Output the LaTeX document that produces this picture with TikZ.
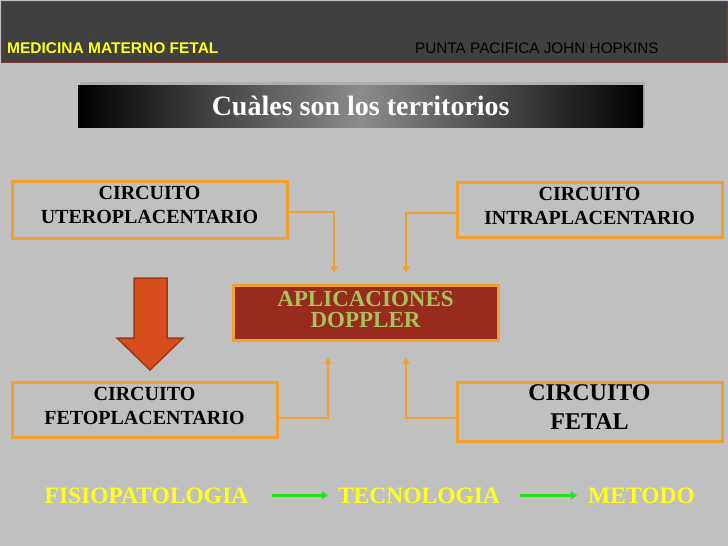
\documentclass[tikz,border=0pt]{standalone}
\usepackage{fontspec}
\setmainfont{Liberation Serif}
\newfontfamily\hdrfont{Liberation Sans}
\usetikzlibrary{arrows.meta}
\definecolor{bg}{HTML}{C0C0C0}
\definecolor{hdr}{HTML}{404040}
\definecolor{hdrborder}{HTML}{823630}
\definecolor{orng}{HTML}{F0A030}
\definecolor{dred}{HTML}{962B1E}
\definecolor{doptext}{HTML}{A8C15C}
\definecolor{ylw}{HTML}{FFFF1A}
\definecolor{grn}{HTML}{22E022}
\definecolor{bigarrow}{HTML}{D84D1C}
\definecolor{bigarrowborder}{HTML}{A03815}
\definecolor{titlemid}{HTML}{8C8C8C}
\definecolor{shadowgray}{HTML}{AEAEAE}
\tikzset{
  cbox/.style={draw=orng, line width=3pt, inner sep=0pt, align=center,
    font=\bfseries\fontsize{20}{24}\selectfont, minimum width=265pt, minimum height=55pt},
  conn/.style={draw=orng, line width=2pt, -{Triangle[length=7pt,width=7pt]}},
  garrow/.style={draw=grn, line width=3pt, -{Triangle[length=6pt,width=8pt]}},
  btext/.style={anchor=base, inner sep=0pt, text=ylw, font=\bfseries\fontsize{23.5}{28}\selectfont}
}
\begin{document}
\begin{tikzpicture}[x=1pt,y=-1pt]
\useasboundingbox (0,0) rectangle (728,546);
\fill[bg] (0,0) rectangle (728,546);
% header
\node[draw=hdrborder, fill=hdr, line width=1.5pt, minimum width=726.5pt, minimum height=61pt,
  anchor=north west, inner sep=0pt] (header) at (0.75,0.75) {};
\node[anchor=base west, inner sep=0pt, text=ylw, font=\hdrfont\bfseries\fontsize{15.5}{18}\selectfont] (hl) at (7,53) {MEDICINA MATERNO FETAL};
\node[anchor=base west, inner sep=0pt, text=black, font=\hdrfont\fontsize{15.3}{18}\selectfont] (hr) at (415,53) {PUNTA PACIFICA JOHN HOPKINS};
% title bar
\fill[shadowgray] (80,82) rectangle (645,126);
\node[anchor=north west, minimum width=565pt, minimum height=42pt, inner sep=0pt,
  left color=black, right color=black, middle color=titlemid,
  text=white, font=\bfseries\fontsize{28}{32}\selectfont] (title) at (78,85) {Cuàles son los territorios};
% boxes
\node[cbox, minimum width=275pt, minimum height=57pt, text depth=9pt] (utero) at (149.5,209.5) {CIRCUITO\\UTEROPLACENTARIO};
\node[cbox, text depth=8pt] (intra) at (589.5,209.5) {CIRCUITO\\INTRAPLACENTARIO};
\node[cbox, text depth=7pt] (feto) at (144.5,409.5) {CIRCUITO\\FETOPLACENTARIO};
\node[cbox, minimum height=59pt, text depth=8pt, font=\bfseries\fontsize{24}{29}\selectfont] (fetal) at (589.5,411.5) {CIRCUITO\\FETAL};
\node[draw=orng, fill=dred, line width=3pt, minimum width=265pt, minimum height=55pt, inner sep=0pt,
  align=center, text=doptext, text depth=7pt, font=\bfseries\fontsize{23}{21}\selectfont] (dop) at (365.5,312.5) {APLICACIONES\\DOPPLER};
% connectors
\coordinate (t1) at (334,273);
\coordinate (t2) at (406,273);
\coordinate (b1) at (328,357);
\coordinate (b2) at (406,357);
\draw[conn] ([yshift=-2.5pt]utero.east) -| (t1);
\draw[conn] ([yshift=-3.5pt]intra.west) -| (t2);
\draw[conn] ([yshift=-8.5pt]feto.east) -| (b1);
\draw[conn] ([yshift=-6.5pt]fetal.west) -| (b2);
% big arrow
\draw[fill=bigarrow, draw=bigarrowborder, line width=1.5pt, line join=miter]
  (134,278) -- (167,278) -- (167,338) -- (183,338) -- (150,370) -- (117,338) -- (134,338) -- cycle;
% bottom row
\node[btext] (fisio) at (146.5,503) {FISIOPATOLOGIA};
\node[btext] (tecno) at (419,503) {TECNOLOGIA};
\node[btext] (metodo) at (641.5,503) {METODO};
\draw[garrow, shorten <=23pt, shorten >=10pt] (fisio.east) -- (tecno.west);
\draw[garrow, shorten <=20pt, shorten >=11pt] (tecno.east) -- (metodo.west);
\end{tikzpicture}
\end{document}
